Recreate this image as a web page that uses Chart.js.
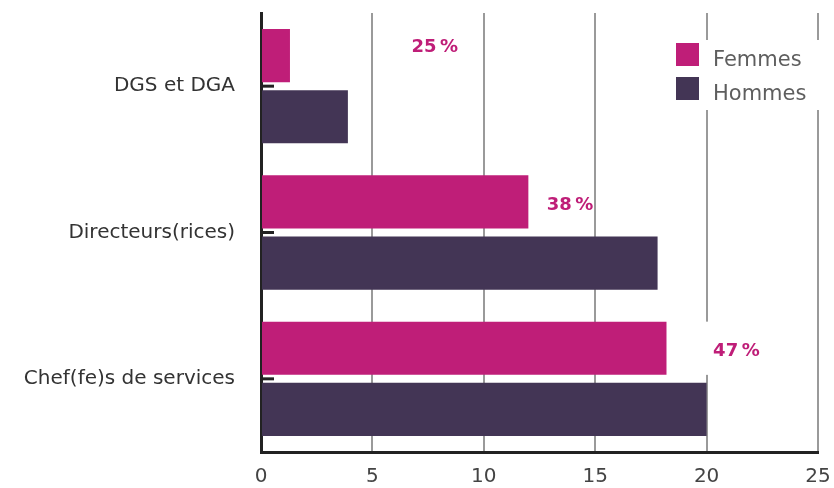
<!DOCTYPE html>
<html>
<head>
<meta charset="utf-8">
<title>Femmes / Hommes</title>
<script src="https://cdn.jsdelivr.net/npm/chart.js@4/dist/chart.umd.min.js"></script>
<style>
  html, body { margin: 0; padding: 0; background: #fff; }
  #wrap { width: 834px; height: 488px; }
</style>
</head>
<body>
<div id="wrap"><canvas id="postesChart"></canvas></div>
<script>
// donnees
const categories = ["DGS et DGA", "Directeurs(rices)", "Chef(fe)s de services"];
const femmes = [1.3, 12, 18.2];
const hommes = [3.9, 17.8, 20];
const parts = ["25\u202F%", "38\u202F%", "47\u202F%"];
const xTicks = [0, 5, 10, 15, 20, 25];

const ROSE = "#bf1e78";
const VIOLET = "#433555";
const POLICE = "'DejaVu Sans', 'Noto Sans', sans-serif";

// ou placer les pourcentages (en unites de l'axe x) et decalage vertical en px
const posParts = [7.8, 13.87, 21.34];
const decalY = [-8, 3, 3];

const habillage = {
  id: "habillage",
  afterDatasetsDraw(chart) {
    const ctx = chart.ctx;
    const x = chart.scales.x;
    const y = chart.scales.y;
    const area = chart.chartArea;
    ctx.save();

    // petits traits a droite de l'axe
    ctx.strokeStyle = "#222";
    ctx.lineWidth = 3;
    categories.forEach((c, i) => {
      const py = y.getPixelForValue(i);
      ctx.beginPath();
      ctx.moveTo(area.left, py);
      ctx.lineTo(area.left + 13, py);
      ctx.stroke();
    });

    // pourcentages
    const meta = chart.getDatasetMeta(0);
    ctx.font = "bold 18px " + POLICE;
    ctx.textAlign = "center";
    ctx.textBaseline = "middle";
    parts.forEach((t, i) => {
      const bar = meta.data[i];
      const cx = x.getPixelForValue(posParts[i]);
      const w = ctx.measureText(t).width;
      ctx.fillStyle = "#fff";
      ctx.fillRect(cx - w / 2 - 8, bar.y - bar.height / 2, w + 8, bar.height);
      ctx.fillStyle = ROSE;
      ctx.fillText(t, cx, bar.y + decalY[i]);
    });

    // legende
    ctx.fillStyle = "#fff";
    ctx.fillRect(662, 40, 168, 70);
    const items = [["Femmes", ROSE], ["Hommes", VIOLET]];
    ctx.font = "21px " + POLICE;
    ctx.textAlign = "left";
    ctx.textBaseline = "alphabetic";
    items.forEach((it, i) => {
      const top = 43 + i * 34;
      ctx.fillStyle = it[1];
      ctx.fillRect(676, top, 23, 23);
      ctx.fillStyle = "#5e5e5e";
      ctx.fillText(it[0], 713, top + 23);
    });
    ctx.restore();
  }
};

const ctx = document.getElementById("postesChart").getContext("2d");

new Chart(ctx, {
  type: "bar",
  data: {
    labels: categories,
    datasets: [
      { label: "Femmes", data: femmes, backgroundColor: ROSE },
      { label: "Hommes", data: hommes, backgroundColor: VIOLET }
    ]
  },
  options: {
    indexAxis: "y",
    responsive: true,
    maintainAspectRatio: false,
    animation: false,
    categoryPercentage: 0.836,
    barPercentage: 0.87,
    layout: { padding: { top: 13, right: 16, left: 0, bottom: 0 } },
    plugins: {
      legend: { display: false },
      tooltip: { enabled: false }
    },
    scales: {
      x: {
        min: 0,
        max: 25,
        afterBuildTicks: (s) => { s.ticks = xTicks.map(v => ({ value: v })); },
        afterFit: (s) => { s.height = 36; },
        grid: {
          color: (c) => (c.tick && c.tick.value === 0 ? "rgba(0,0,0,0)" : "#9a9a9a"),
          lineWidth: 2,
          drawTicks: true,
          tickLength: 13,
          tickColor: "rgba(0,0,0,0)"
        },
        border: { color: "#222", width: 3 },
        ticks: {
          padding: 0,
          color: "#444",
          font: { family: POLICE, size: 20 }
        }
      },
      y: {
        afterFit: (s) => { s.width = 261; },
        grid: {
          drawOnChartArea: false,
          drawTicks: true,
          tickLength: 26,
          tickColor: "rgba(0,0,0,0)"
        },
        border: { color: "#222", width: 3 },
        ticks: {
          padding: 0,
          color: "#333",
          font: { family: POLICE, size: 20 }
        }
      }
    }
  },
  plugins: [habillage]
});
</script>
</body>
</html>
